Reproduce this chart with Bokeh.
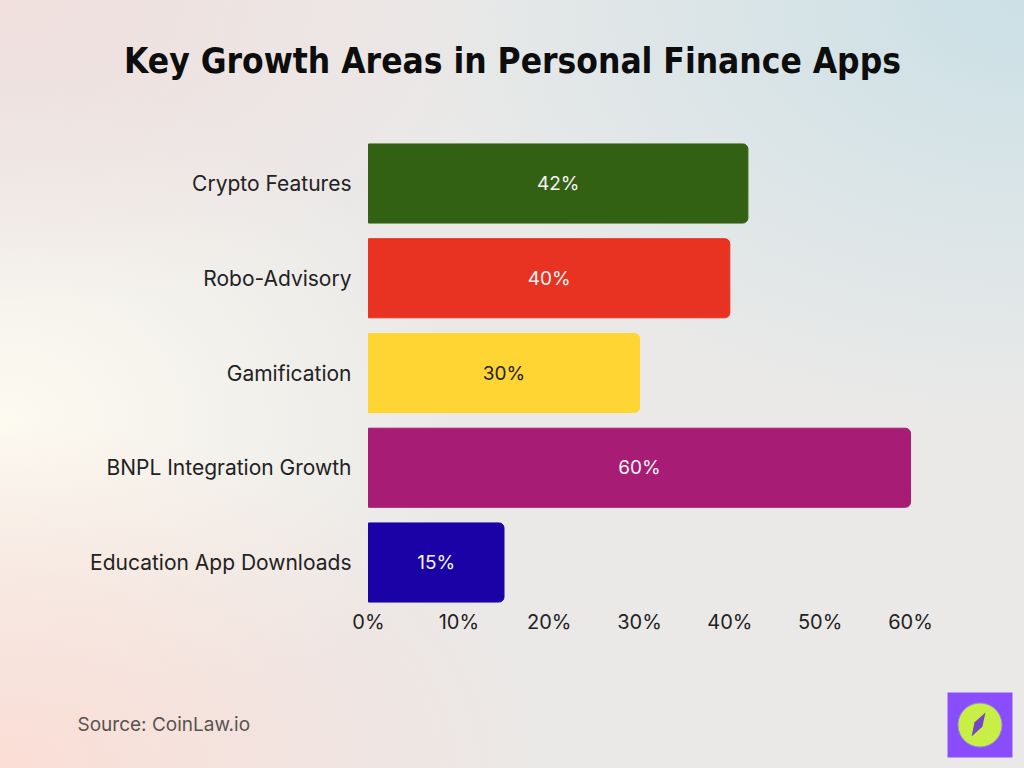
from bokeh.plotting import figure
from bokeh.models import Label, PrintfTickFormatter, FixedTicker, Range1d, ColumnDataSource
from bokeh.core.properties import value
from bokeh.embed import file_html
from bokeh.resources import INLINE

categories = ["Crypto Features", "Robo-Advisory", "Gamification", "BNPL Integration Growth", "Education App Downloads"]
values = [42, 40, 30, 60, 15]
bar_colors = ["#336114", "#e83222", "#ffd534", "#a71c74", "#1b02a6"]
label_colors = ["#f4f4f4", "#f4f4f4", "#222222", "#f4f4f4", "#f4f4f4"]
x_ticks = [0, 10, 20, 30, 40, 50, 60]

W, H = 1024, 768
# layout: where the value axis sits on the canvas (pixels)
AX_LEFT, AX_RIGHT, X_MAX = 368, 910, 60
ROW0, ROW_STEP = 183, 94.75
PX = (AX_RIGHT - AX_LEFT) / X_MAX

def dx(px):
    return (px - AX_LEFT) / PX

def dy(py):
    return (py - ROW0) / ROW_STEP

idx = list(range(len(categories)))
src = ColumnDataSource(dict(
    i=idx, val=values, color=bar_colors, lcol=label_colors,
    mid=[v / 2 for v in values], txt=[f"{v}%" for v in values],
))

p = figure(width=W, height=H, output_backend="svg", toolbar_location=None,
           x_range=Range1d(dx(0), dx(W)), y_range=Range1d(dy(H), dy(0)),
           min_border=0)
p.styles = {"background": (
    "radial-gradient(ellipse 55% 45% at 0% 100%, rgba(251,222,214,1) 0%, rgba(251,222,214,0) 100%),"
    "radial-gradient(ellipse 60% 55% at 100% 0%, rgba(203,224,230,1) 0%, rgba(203,224,230,0) 100%),"
    "radial-gradient(ellipse 50% 40% at 0% 0%, rgba(240,223,221,1) 0%, rgba(240,223,221,0) 100%),"
    "radial-gradient(ellipse 45% 45% at 0% 55%, rgba(253,250,240,1) 0%, rgba(253,250,240,0) 100%),"
    "#eae9e8")}
p.background_fill_color = None
p.border_fill_color = None
p.outline_line_color = None
p.grid.visible = False

p.hbar(y="i", right="val", left=0, height=0.835, color="color", source=src,
       border_radius=(0, 5, 5, 0))
p.text(x="mid", y="i", text="txt", text_color="lcol", text_align="center", text_baseline="middle",
       text_font=value("Inter"), text_font_size="19px", source=src)

p.xaxis.ticker = FixedTicker(ticks=x_ticks)
p.xaxis.formatter = PrintfTickFormatter(format="%d%%")
p.xaxis.fixed_location = len(categories) - 0.5
p.yaxis.ticker = FixedTicker(ticks=idx)
p.yaxis.major_label_overrides = {i: c for i, c in zip(idx, categories)}
p.yaxis.fixed_location = 0
for ax in (p.xaxis, p.yaxis):
    ax.axis_line_color = None
    ax.major_tick_line_color = None
    ax.minor_tick_line_color = None
    ax.major_tick_in = 0
    ax.major_tick_out = 0
    ax.minor_tick_in = 0
    ax.minor_tick_out = 0
    ax.major_label_text_font = "Inter"
    ax.major_label_text_color = "#222222"
p.xaxis.major_label_text_font_size = "20px"
p.yaxis.major_label_text_font_size = "21px"
p.xaxis.major_label_standoff = 0
p.yaxis.major_label_standoff = 17

p.add_layout(Label(x=512, y=H - 60, x_units="screen", y_units="screen",
                   text="Key Growth Areas in Personal Finance Apps",
                   text_font="DejaVu Sans Condensed", text_font_style="bold", text_font_size="35px",
                   text_align="center", text_baseline="middle", text_color="#0d0d0d"))
p.add_layout(Label(x=77, y=H - 724, x_units="screen", y_units="screen", text="Source: CoinLaw.io",
                   text_font="Inter", text_font_size="19px", text_baseline="middle", text_color="#5a5250"))

# logo badge (bottom right)
cx, cy = 979.5, 724.5
p.rect(x=dx(cx), y=dy(cy), width=65, height=65, width_units="screen", height_units="screen",
       fill_color="#8a4dfd", line_color=None)
p.circle(x=dx(cx), y=dy(cy), radius=22, radius_units="screen", fill_color="#c8ef45", line_color="#9a8fd0",
         line_width=1)
needle_px = [(985, 712), (981.9, 726.3), (971, 736), (974.1, 721.8)]
p.patch(x=[dx(a) for a, b in needle_px], y=[dy(b) for a, b in needle_px], fill_color="#7446c4", line_color=None)

open("out.html", "w").write(file_html(p, INLINE))
